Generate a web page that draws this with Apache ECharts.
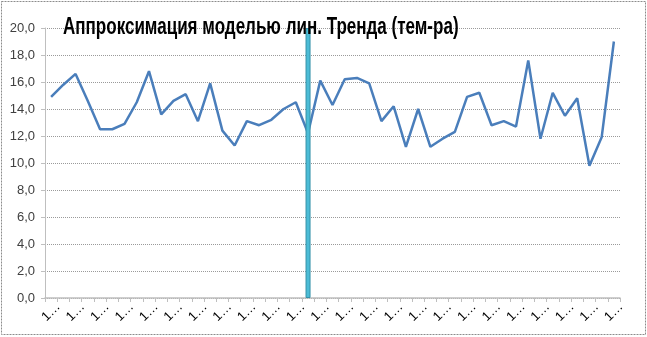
<!DOCTYPE html>
<html>
<head>
<meta charset="utf-8">
<script src="https://cdn.jsdelivr.net/npm/echarts@6/dist/echarts.min.js"></script>
<style>html,body{margin:0;padding:0;background:#fff}#c{width:647px;height:337px}</style>
</head>
<body>
<div id="c"></div>
<script>
const titleText = 'Аппроксимация моделью лин. Тренда (тем-ра)';
const temperature = [14.9, 15.8, 16.6, 14.6, 12.5, 12.5, 12.9, 14.5, 16.8, 13.6,
  14.6, 15.1, 13.1, 15.9, 12.4, 11.3, 13.1, 12.8, 13.2, 14.0,
  14.5, 12.2, 16.1, 14.3, 16.2, 16.3, 15.9, 13.1, 14.2, 11.2,
  14.0, 11.2, 11.8, 12.3, 14.9, 15.2, 12.8, 13.1, 12.7, 17.6,
  11.8, 15.2, 13.5, 14.8, 9.8, 11.9, 19.0];
const categories = temperature.map(() => '1…');
const splitIndex = 21;
const splitValue = 20;
const splitMarker = temperature.map((v, i) => i === splitIndex ? splitValue : null);

const chart = echarts.init(document.getElementById('c'), null, {renderer: 'canvas'});
chart.setOption({
  animation: false,
  backgroundColor: '#fff',
  grid: {left: 45, right: 27, top: 28, bottom: 39},
  graphic: [
    {type: 'rect', shape: {x: 1.5, y: 1.5, width: 644, height: 333}, style: {fill: 'none', stroke: '#8c8c8c', lineWidth: 1, lineDash: [2, 1]}, z: 100},
    {type: 'text', x: 63, y: 16, scaleX: 0.74, style: {text: titleText, font: 'bold 23px "Liberation Sans"', fill: '#000'}, z: 50}
  ],
  xAxis: {
    type: 'category', data: categories, boundaryGap: true,
    axisLine: {lineStyle: {color: '#bfbfbf', width: 1.5}},
    axisTick: {show: true, length: 4, interval: 0, lineStyle: {color: '#bfbfbf'}},
    axisLabel: {interval: 1, rotate: 45, align: 'center', verticalAlign: 'middle', fontSize: 13, color: '#000', fontFamily: 'Liberation Sans', margin: 14}
  },
  yAxis: {
    type: 'value', min: 0, max: 20, interval: 2,
    axisLine: {show: true, lineStyle: {color: '#bfbfbf', width: 1}},
    axisTick: {show: true, length: 4, lineStyle: {color: '#bfbfbf'}},
    splitLine: {show: true, lineStyle: {color: '#9a9a9a', type: 'dotted', width: 1}},
    axisLabel: {fontSize: 13, color: '#404040', fontFamily: 'Liberation Sans', margin: 10,
      formatter: v => v.toFixed(1).replace('.', ',')}
  },
  series: [
    {type: 'line', data: temperature, symbol: 'none', lineStyle: {color: '#4a7ebb', width: 2.5}, z: 3},
    {type: 'bar', data: splitMarker, barWidth: 5, z: 4,
      itemStyle: {color: '#4bbcd6', borderColor: '#3590a8', borderWidth: 1}}
  ]
});
</script>
</body>
</html>
